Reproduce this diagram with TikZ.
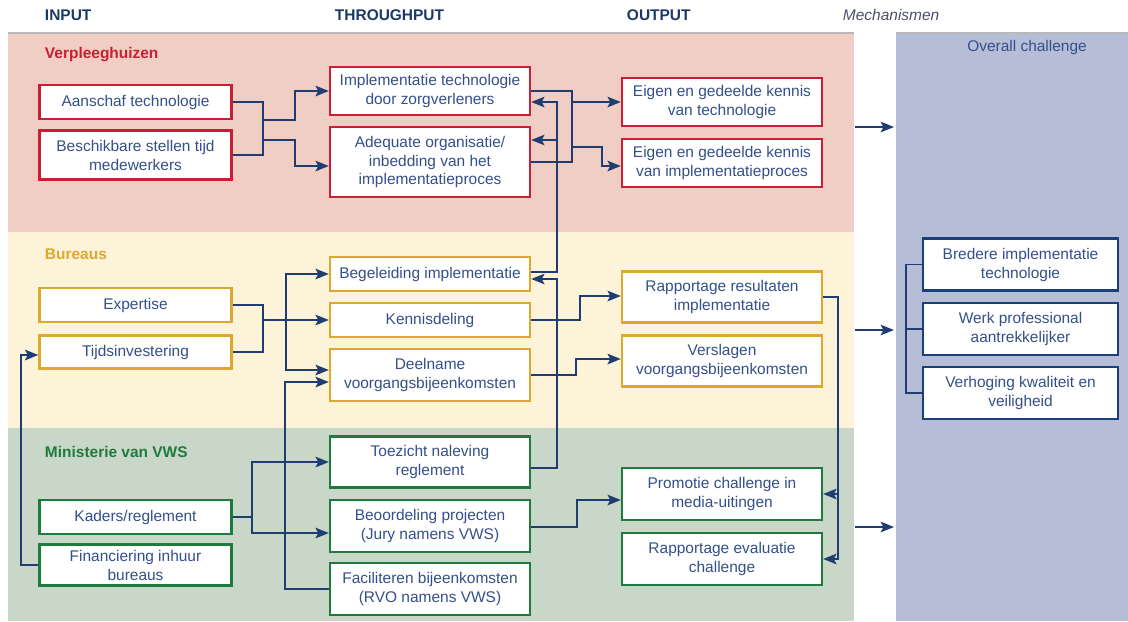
\documentclass[tikz,border=0pt]{standalone}
\usepackage{fontspec}
\setmainfont{Liberation Sans}
\usepackage[HTML]{xcolor}
\usetikzlibrary{positioning, arrows.meta, calc}

\definecolor{navy}{HTML}{1F3D73}
\definecolor{txtblue}{HTML}{34508A}
\definecolor{headnavy}{HTML}{1C3866}
\definecolor{mechgray}{HTML}{4B5068}
\definecolor{redb}{HTML}{C81F37}
\definecolor{goldb}{HTML}{DCA82E}
\definecolor{greenb}{HTML}{1E7B3E}
\definecolor{boxnavy}{HTML}{1B3F7A}
\definecolor{pinkbg}{HTML}{F0CEC4}
\definecolor{yellowbg}{HTML}{FDF3D8}
\definecolor{greenbg}{HTML}{C9D7C9}
\definecolor{bluebg}{HTML}{B6BDD7}

\begin{document}
\begin{tikzpicture}[x=0.025cm, y=-0.025cm, font=\fontsize{11}{13.5}\selectfont,
  conn/.style={navy, line width=1.3pt},
  arr/.style={conn, -{Stealth[length=9.5pt,width=7.5pt,inset=2pt]}},
  box/.style={draw, fill=white, line width=1.6pt, align=center, text=txtblue, inner sep=1pt},
  inbox/.style={box, minimum width=4.8cm},
  midbox/.style={box, minimum width=5cm},
  bluebox/.style={box, draw=boxnavy, minimum width=4.875cm, minimum height=1.3cm},
  lbl/.style={anchor=west, font=\fontsize{11}{13}\selectfont\bfseries}]

\useasboundingbox (0,0) rectangle (1128,621);

% achtergrond
\fill[pinkbg] (8,33) rectangle (854,232);
\fill[yellowbg] (8,232) rectangle (854,428);
\fill[greenbg] (8,428) rectangle (854,621);
\fill[bluebg] (896,33) rectangle (1128,621);
\draw[gray!55, line width=1.4pt] (8,33) -- (854,33) (896,33) -- (1128,33);

\node[lbl, headnavy] at (40,15) {INPUT};
\node[lbl, headnavy] at (330,15) {THROUGHPUT};
\node[lbl, headnavy] at (622,15) {OUTPUT};
\node[anchor=west, mechgray, font=\fontsize{11}{13}\selectfont\itshape] at (838,15) {Mechanismen};
\node[txtblue] at (1027,47) {Overall challenge};

\node[lbl, redb] at (40,55) {Verpleeghuizen};
\node[lbl, goldb] at (40,254) {Bureaus};
\node[lbl, greenb] at (40,452) {Ministerie van VWS};

% verpleeghuizen
\node[inbox, draw=redb, minimum height=0.85cm] (aanschaf) at (135.5,102) {Aanschaf technologie};
\node[inbox, draw=redb, minimum height=1.22cm] (beschik) at (135.5,155) {Beschikbare stellen tijd\\medewerkers};
\node[midbox, draw=redb, minimum height=1.2cm] (impl) at (430,91) {Implementatie technologie\\door zorgverleners};
\node[midbox, draw=redb, minimum height=1.75cm] (adeq) at (430,162) {Adequate organisatie/\\inbedding van het\\implementatieproces};
\node[midbox, draw=redb, minimum height=1.2cm] (eigen1) at (722,102) {Eigen en gedeelde kennis\\van technologie};
\node[midbox, draw=redb, minimum height=1.2cm] (eigen2) at (722,163) {Eigen en gedeelde kennis\\van implementatieproces};

% bureaus
\node[inbox, draw=goldb, minimum height=0.85cm] (expert) at (135.5,305) {Expertise};
\node[inbox, draw=goldb, minimum height=0.82cm] (tijds) at (135.5,352) {Tijdsinvestering};
\node[midbox, draw=goldb, minimum height=0.85cm] (begel) at (430,274) {Begeleiding implementatie};
\node[midbox, draw=goldb, minimum height=0.85cm] (kennis) at (430,320) {Kennisdeling};
\node[midbox, draw=goldb, minimum height=1.3cm] (deeln) at (430,375) {Deelname\\voorgangsbijeenkomsten};
\node[midbox, draw=goldb, minimum height=1.27cm] (rappres) at (722,297) {Rapportage resultaten\\implementatie};
\node[midbox, draw=goldb, minimum height=1.27cm] (versl) at (722,361) {Verslagen\\voorgangsbijeenkomsten};

% ministerie
\node[midbox, draw=greenb, minimum height=1.27cm] (toez) at (430,462) {Toezicht naleving\\reglement};
\node[inbox, draw=greenb, minimum height=0.85cm] (kaders) at (135.5,517) {Kaders/reglement};
\node[inbox, draw=greenb, minimum height=1.02cm] (financ) at (135.5,565) {Financiering inhuur\\bureaus};
\node[midbox, draw=greenb, minimum height=1.3cm] (beoord) at (430,526) {Beoordeling projecten\\(Jury namens VWS)};
\node[midbox, draw=greenb, minimum height=1.3cm] (facil) at (430,589) {Faciliteren bijeenkomsten\\(RVO namens VWS)};
\node[midbox, draw=greenb, minimum height=1.3cm] (promo) at (722,494) {Promotie challenge in\\media-uitingen};
\node[midbox, draw=greenb, minimum height=1.3cm] (evalu) at (722,559) {Rapportage evaluatie\\challenge};

% overall challenge
\node[bluebox] (bredere) at (1020.5,264.5) {Bredere implementatie\\technologie};
\node[bluebox] (werk) at (1020.5,329) {Werk professional\\aantrekkelijker};
\node[bluebox] (verhog) at (1020.5,393) {Verhoging kwaliteit en\\veiligheid};

% verbindingen verpleeghuizen
\coordinate (rm1) at (263,120);
\coordinate (rm2) at (263,140);
\draw[conn] (aanschaf.east) -| (rm1) -- (rm2) |- (beschik.east);
\draw[arr] (rm1) -- ++(32,0) |- (impl.west);
\draw[arr] (rm2) -- ++(32,0) |- ($(adeq.west)+(0,4)$);
\coordinate (ob1) at (572,102);
\coordinate (ob2) at (572,147);
\draw[conn] (impl.east) -| (ob1) -- (ob2) |- (adeq.east);
\draw[arr] (ob1) -- (eigen1.west);
\draw[arr] (ob2) -- ++(30,0) |- ($(eigen2.west)+(0,3)$);
\coordinate (bv) at (557,140);
\draw[arr] ($(begel.east)+(0,-2)$) -| (bv) |- ($(impl.east)+(0,11)$);
\draw[arr] (bv) -- (adeq.east |- bv);
\draw[arr] ($(toez.east)+(0,6)$) -- ++(26,0) |- ($(begel.east)+(0,5)$);

% verbindingen bureaus
\coordinate (ym) at (263,320);
\coordinate (yv) at (286,320);
\draw[conn] (expert.east) -| (ym) |- (tijds.east);
\draw[arr] (ym) -- (kennis.west);
\draw[arr] (yv) |- (begel.west);
\draw[arr] (yv) |- ($(deeln.west)+(0,-5)$);
\draw[arr] (kennis.east) -- ++(49,0) |- ($(rappres.west)+(0,-1)$);
\draw[arr] (deeln.east) -- ++(45,0) |- ($(versl.west)+(0,-2)$);
\coordinate (rv) at (838,494);
\draw[arr] (rappres.east) -| (rv) |- (evalu.east);
\draw[arr] (rv) -- (promo.east);

% verbindingen ministerie
\coordinate (gm) at (252,517);
\draw[conn] (kaders.east) -- (gm);
\draw[arr] (gm) |- (toez.west);
\draw[arr] (gm) |- ($(beoord.west)+(0,7)$);
\draw[arr] (facil.west) -- ++(-44,0) |- ($(deeln.west)+(0,7)$);
\draw[arr] (financ.west) -- ++(-17,0) |- ($(tijds.west)+(0,3)$);
\draw[arr] ($(beoord.east)+(0,1)$) -- ++(46,0) |- ($(promo.west)+(0,6)$);

% naar overall challenge
\foreach \y in {127,330,527}
  \draw[arr] (855,\y) -- (894,\y);
\coordinate (bk) at (906,329);
\draw[conn] (bredere.west) -| (bk) |- (verhog.west);
\draw[conn] (bk) -- (werk.west);
\end{tikzpicture}
\end{document}
